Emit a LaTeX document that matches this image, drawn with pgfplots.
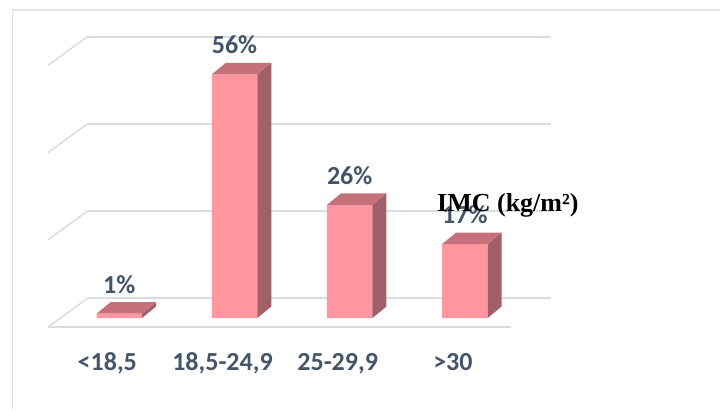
\documentclass[border=0pt]{standalone}
\usepackage{pgfplots}
\pgfplotsset{compat=1.18}
\usepackage{pgfplotstable}
\usepackage{fontspec}
\setmainfont{Carlito}
\newfontfamily\serifb{Liberation Serif}
\definecolor{front}{HTML}{FF96A0}
\definecolor{topc}{HTML}{C6707A}
\definecolor{side}{HTML}{A15F67}
\definecolor{lab}{HTML}{44546A}
\definecolor{gridc}{HTML}{D9DCE3}
\definecolor{framec}{HTML}{E3E3E3}
\pgfplotstableread{
idx val
0 1
1 56
2 26
3 17
}\imc
\begin{document}
\begin{tikzpicture}[x=1pt,y=1pt]
\useasboundingbox (0,0) rectangle (720,410);
\draw[framec, line width=1.2pt] (12.5,0) -- (12.5,400) -- (720,400);
% back wall with gridlines
\begin{axis}[at={(88pt,112pt)}, anchor=south west, scale only axis,
  width=463pt, height=261pt, xmin=0, xmax=1, ymin=0, ymax=60,
  ytick={0,20,40,60}, xtick=\empty, ymajorgrids,
  grid style={gridc, line width=1.5pt},
  axis line style={draw=none}, yticklabels={}, major tick length=0pt]
\end{axis}
\foreach \yy in {112,199.25,286.5,373.75} \draw[gridc,line width=1.5pt] (88,\yy) -- (48,\yy-29);
\draw[gridc, line width=1.5pt] (48,83) -- (511,83);
% bars
\begin{axis}[at={(61.7pt,92pt)}, anchor=south west, scale only axis,
  width=460.8pt, height=261pt, xmin=-0.5, xmax=3.5, ymin=0, ymax=60,
  clip=false, axis line style={draw=none}, major tick length=0pt,
  ytick=\empty, xtick=data,
  /pgf/number format/assume math mode=true,
  xticklabels={{<18,5},{18,5-24,9},{25-29,9},{>30}},
  xticklabel style={anchor=base, xshift=-12pt, yshift=-52pt,
    font=\fontsize{26}{30}\selectfont\bfseries, text=lab}]
\addplot[ybar, bar shift=0pt, bar width=45.5pt, fill=front, draw=none,
  nodes near coords={\pgfmathprintnumber[assume math mode=true]{\pgfplotspointmeta}\%},
  nodes near coords style={anchor=base, yshift=20.5pt,
    font=\fontsize{26}{30}\selectfont\bfseries, text=lab}]
  table[x=idx,y=val]{\imc};
\addplot[scatter, only marks, mark=*, mark size=0pt, draw=none, fill=none,
  visualization depends on={rawy \as \ry},
  scatter/@pre marker code/.code={%
    \pgfmathsetmacro\hh{\ry*4.35}%
    \fill[side] (22.75pt,0pt) -- (36.75pt,11.5pt) -- (36.75pt,11.5pt-\hh pt) -- (22.75pt,-\hh pt) -- cycle;
    \fill[topc] (-22.75pt,0pt) -- (22.75pt,0pt) -- (36.75pt,11.5pt) -- (-8.75pt,11.5pt) -- cycle;
  },
  scatter/@post marker code/.code={}]
  table[x=idx,y=val]{\imc};
\end{axis}
\node[anchor=base west, inner sep=0pt, font=\serifb\bfseries\fontsize{26}{30}\selectfont] at (437,198) {IMC (kg/m²)};
\end{tikzpicture}
\end{document}
